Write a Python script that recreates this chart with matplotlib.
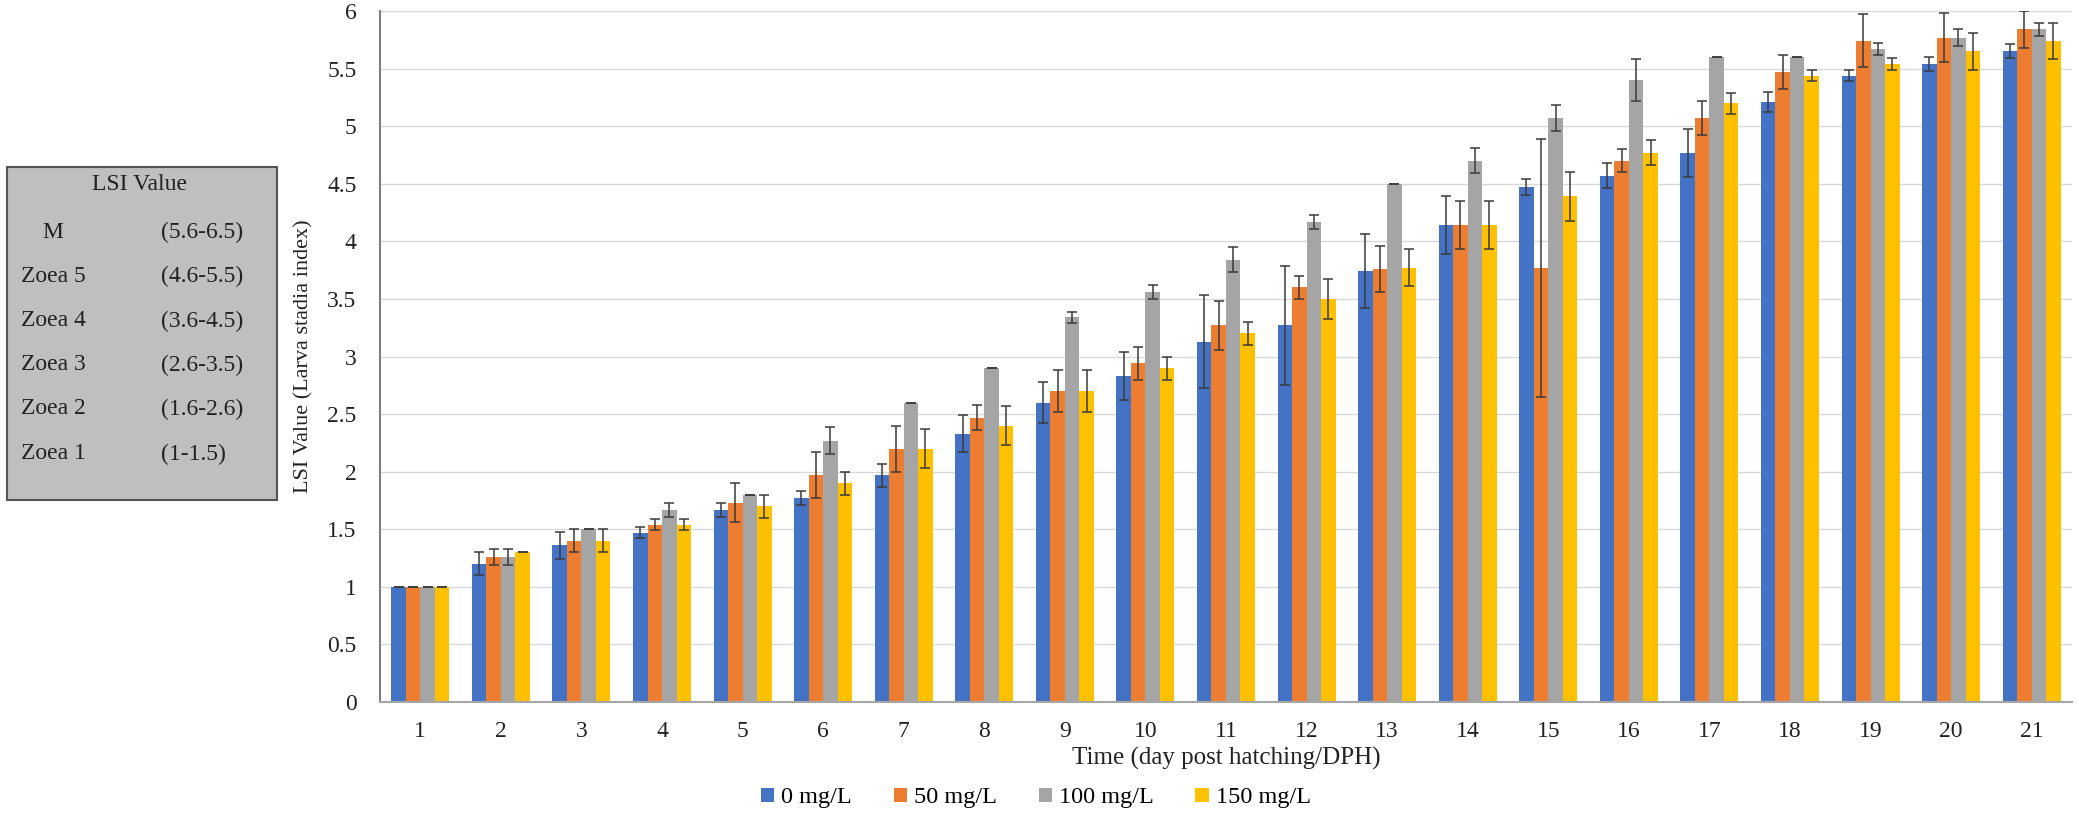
import numpy as np
import matplotlib.pyplot as plt
from matplotlib.patches import Rectangle

plt.rcParams['font.family'] = ['Liberation Serif', 'DejaVu Serif']

days = [str(d) for d in range(1, 22)]
series_names = ['0 mg/L', '50 mg/L', '100 mg/L', '150 mg/L']
colors = ['#4472C4', '#ED7D31', '#A5A5A5', '#FFC000']

lsi_0 = [1.0, 1.2, 1.36, 1.47, 1.67, 1.77, 1.97, 2.33, 2.6, 2.83, 3.13,
         3.27, 3.74, 4.14, 4.47, 4.57, 4.77, 5.21, 5.44, 5.54, 5.65]
err_0 = [0, 0.1, 0.12, 0.05, 0.06, 0.06, 0.1, 0.16, 0.18, 0.21, 0.4,
         0.52, 0.32, 0.25, 0.07, 0.11, 0.21, 0.09, 0.05, 0.06, 0.06]
lsi_50 = [1.0, 1.26, 1.4, 1.54, 1.73, 1.97, 2.2, 2.47, 2.7, 2.94, 3.27,
          3.6, 3.76, 4.14, 3.77, 4.7, 5.07, 5.47, 5.74, 5.77, 5.84]
err_50 = [0, 0.07, 0.1, 0.05, 0.17, 0.2, 0.2, 0.11, 0.18, 0.14, 0.21,
          0.1, 0.2, 0.21, 1.12, 0.1, 0.15, 0.15, 0.23, 0.21, 0.16]
lsi_100 = [1.0, 1.26, 1.5, 1.67, 1.8, 2.27, 2.6, 2.9, 3.34, 3.56, 3.84,
           4.17, 4.5, 4.7, 5.07, 5.4, 5.6, 5.6, 5.67, 5.77, 5.84]
err_100 = [0, 0.07, 0, 0.06, 0, 0.12, 0, 0, 0.05, 0.06, 0.11,
           0.06, 0, 0.11, 0.11, 0.18, 0, 0, 0.05, 0.07, 0.06]
lsi_150 = [1.0, 1.3, 1.4, 1.54, 1.7, 1.9, 2.2, 2.4, 2.7, 2.9, 3.2,
           3.5, 3.77, 4.14, 4.39, 4.77, 5.2, 5.44, 5.54, 5.65, 5.74]
err_150 = [0, 0, 0.1, 0.05, 0.1, 0.1, 0.17, 0.17, 0.18, 0.1, 0.1,
           0.17, 0.16, 0.21, 0.21, 0.11, 0.09, 0.05, 0.05, 0.16, 0.16]

stages = ['M', 'Zoea 5', 'Zoea 4', 'Zoea 3', 'Zoea 2', 'Zoea 1']
stage_ranges = ['(5.6-6.5)', '(4.6-5.5)', '(3.6-4.5)', '(2.6-3.5)', '(1.6-2.6)', '(1-1.5)']

values = [lsi_0, lsi_50, lsi_100, lsi_150]
errors = [err_0, err_50, err_100, err_150]

fig = plt.figure(figsize=(20.79, 8.18), dpi=100)
ax = fig.add_axes([0.1828, 0.1418, 0.8138, 0.8447])

x = np.arange(len(days))
width = 0.18
for i in range(4):
    ax.bar(x + (i - 1.5) * width, values[i], width, color=colors[i],
           label=series_names[i], zorder=2)
    ax.errorbar(x + (i - 1.5) * width, values[i], yerr=errors[i], fmt='none',
                ecolor='#3a3a3a', elinewidth=1.1, capsize=3.5, capthick=1.1,
                zorder=3)

ax.set_xlim(-0.5, len(days) - 0.5)
ax.set_ylim(0, 6)
ax.set_yticks(np.arange(0, 6.01, 0.5))
ax.set_yticklabels(['%g' % v for v in np.arange(0, 6.01, 0.5)])
ax.set_xticks(x)
ax.set_xticklabels(days)
ax.tick_params(axis='both', length=0, labelsize=17, colors='#222222')
ax.tick_params(axis='x', pad=14)
ax.tick_params(axis='y', pad=17)
ax.grid(axis='y', color='#d9d9d9', linewidth=1.0, zorder=0)
ax.set_axisbelow(True)

for s in ['top', 'right']:
    ax.spines[s].set_visible(False)
ax.spines['left'].set_color('#7f7f7f')
ax.spines['left'].set_linewidth(1.5)
ax.spines['bottom'].set_color('#a6a6a6')
ax.spines['bottom'].set_linewidth(1.5)

ax.set_xlabel('Time (day post hatching/DPH)', fontsize=18, color='#222222', labelpad=3)
ax.set_ylabel('LSI Value (Larva stadia index)', fontsize=16, color='#222222')
ax.yaxis.set_label_coords(-0.0396, 0.5)

fig.legend(loc='center', bbox_to_anchor=(1036 / 2079, 1 - 798 / 818), ncol=4,
           frameon=False, fontsize=17.5, handlelength=0.55, handleheight=0.55,
           handletextpad=0.3, columnspacing=1.7)

# stage reference box on the left
fig.add_artist(Rectangle((7 / 2079, 1 - 500 / 818), 270 / 2079, 333 / 818,
                         transform=fig.transFigure, facecolor='#bfbfbf',
                         edgecolor='#555555', linewidth=1.5))
fig.text(139 / 2079, 1 - 185 / 818, 'LSI Value', ha='center', va='center',
         fontsize=17, color='#222222')
row_y = [232, 276, 321, 365, 409, 454]
for i in range(len(stages)):
    yy = 1 - row_y[i] / 818
    if stages[i] == 'M':
        fig.text(53 / 2079, yy, stages[i], ha='center', va='center', fontsize=17, color='#222222')
    else:
        fig.text(21 / 2079, yy, stages[i], ha='left', va='center', fontsize=17, color='#222222')
    fig.text(161 / 2079, yy, stage_ranges[i], ha='left', va='center', fontsize=17, color='#222222')

fig.savefig('out.png', dpi=100)
